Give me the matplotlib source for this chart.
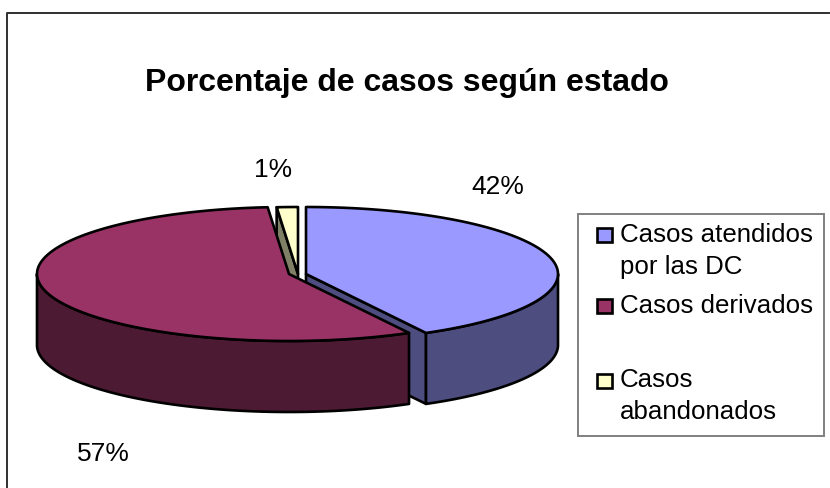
import numpy as np
import matplotlib
matplotlib.use('Agg')
import matplotlib.pyplot as plt
from matplotlib.patches import Polygon, Rectangle

plt.rcParams['font.family'] = ['Liberation Sans', 'DejaVu Sans']

title = 'Porcentaje de casos según estado'
categories = ['Casos atendidos\npor las DC', 'Casos derivados', 'Casos\nabandonados']
# labels round to 42 / 57 / 1
values = [42.1, 56.55, 1.35]
top_colors = ['#9999FF', '#993366', '#FFFFCC']
side_colors = ['#4D4D80', '#4D1A33', '#808066']

# pie geometry, in pixels
RX, RY, DEPTH = 252, 67, 71
CY = 275
CX = [306, 289, 298]   # exploded slices
LW = 1.9

fig = plt.figure(figsize=(8.3, 4.89), dpi=100)
ax = fig.add_axes([0, 0, 1, 1])
ax.set_xlim(0, 830)
ax.set_ylim(489, 0)
ax.axis('off')


def arc(cx, a0, a1):
	# angles clockwise from 12 o'clock, in degrees
	t = np.radians(np.linspace(a0, a1, 150))
	return np.column_stack((cx + RX * np.sin(t), CY - RY * np.cos(t)))


def poly(pts, color, z):
	ax.add_patch(Polygon(pts, closed=True, facecolor=color, edgecolor='black',
		linewidth=LW, joinstyle='round', zorder=z))


edges = np.concatenate(([0], np.cumsum(values))) * 3.6

# chart border, open at the bottom
ax.plot([7, 7, 829], [489, 14, 14], color='#303030', lw=1.4, zorder=1)


def slice_top(i, z):
	a = arc(CX[i], edges[i], edges[i + 1])
	poly(np.vstack(([[CX[i], CY]], a)), top_colors[i], z)


def outer_wall(i, a0, a1, z):
	a = arc(CX[i], a0, a1)
	b = a[::-1] + [0, DEPTH]
	poly(np.vstack((a, b)), side_colors[i], z)


def radial_face(i, ang, z):
	p = arc(CX[i], ang, ang)[0]
	c = [CX[i], CY]
	poly([c, p, p + [0, DEPTH], [c[0], c[1] + DEPTH]], side_colors[i], z)


# blue slice
radial_face(0, edges[1], 2)
outer_wall(0, 90, edges[1], 3)
slice_top(0, 4)
# yellow slice, only its cut face shows
radial_face(2, edges[2], 5)
slice_top(2, 6)
# red slice on top of both
outer_wall(1, edges[1], 270, 7)
slice_top(1, 8)

# percent labels
label_pos = [(498, 187), (103, 454), (273, 170)]
for v, (x, y) in zip(values, label_pos):
	ax.text(x, y, '%.0f%%' % v, ha='center', va='center', fontsize=19, color='black', zorder=10)

ax.text(407, 82.5, title, ha='center', va='center', fontsize=23, fontweight='bold', color='black')

# legend
ax.add_patch(Rectangle((578, 215), 246, 222, facecolor='white', edgecolor='#808080', lw=1.4, zorder=9))
swatch_y = [229, 300, 375]
text_y = [251, 306, 396]
for name, col, sy, ty in zip(categories, top_colors, swatch_y, text_y):
	ax.add_patch(Rectangle((597, sy), 15, 14, facecolor=col, edgecolor='black', lw=1.9, zorder=10))
	ax.text(620, ty, name, ha='left', va='center', fontsize=18.6, linespacing=1.4, color='black', zorder=10)

fig.savefig('out.png', dpi=100)
